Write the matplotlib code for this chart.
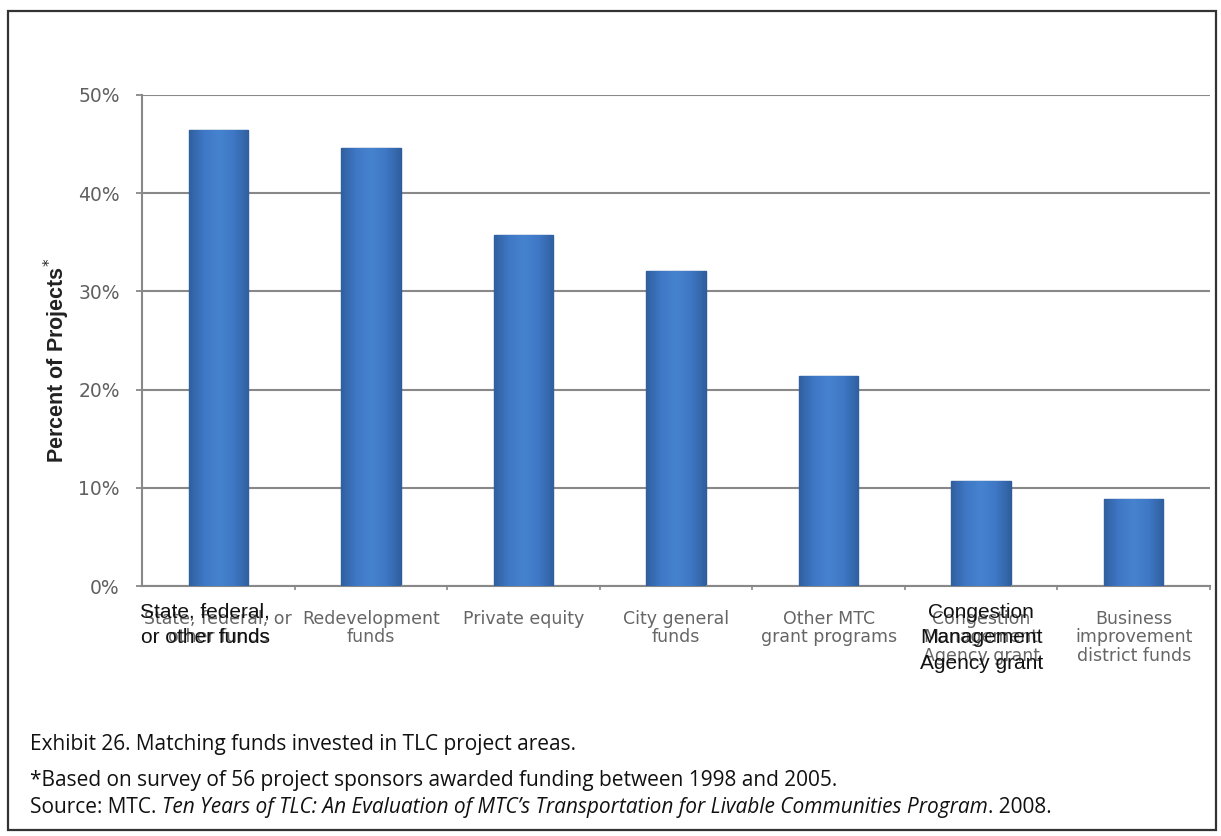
import numpy as np
import matplotlib
matplotlib.use("Agg")
from matplotlib import pyplot as plt
from matplotlib.colors import LinearSegmentedColormap
from matplotlib.patches import Rectangle

# share of projects using each source of matching funds (n = 56 sponsors)
categories = [
    "State, federal, or\nother funds",
    "Redevelopment\nfunds",
    "Private equity",
    "City general\nfunds",
    "Other MTC\ngrant programs",
    "Congestion\nManagement\nAgency grant",
    "Business\nimprovement\ndistrict funds",
]
percent_of_projects = [46.4, 44.6, 35.7, 32.1, 21.4, 10.7, 8.9]
y_ticks = [0, 10, 20, 30, 40, 50]

# a couple of labels sit on top again in a crisper black font
overlay_labels = {0: "State, federal,\nor other funds", 5: "Congestion\nManagement\nAgency grant"}
overlay_x = {0: -0.085, 5: 5.0}

caption_lines = [
    "Exhibit 26. Matching funds invested in TLC project areas.",
    "*Based on survey of 56 project sponsors awarded funding between 1998 and 2005.",
]
source_parts = [
    ("Source: MTC. ", "normal"),
    ("Ten Years of TLC: An Evaluation of MTC\u2019s Transportation for Livable Communities Program", "italic"),
    (". 2008.", "normal"),
]

W, H = 1221, 836
GRID = "#888888"


def px_x(x):
    return x / W


def px_y(y):
    return 1 - y / H


def shade_bars(ax, bars):
    cmap = LinearSegmentedColormap.from_list("bar", ["#30609f", "#3f78c6", "#4683cf", "#3f78c6", "#30609f"])
    grad = np.linspace(0, 1, 64).reshape(1, -1)
    for b in bars:
        x0, y0 = b.get_x(), b.get_y()
        im = ax.imshow(grad, cmap=cmap, aspect="auto", zorder=3,
                       extent=(x0, x0 + b.get_width(), y0, y0 + b.get_height()))
        im.set_clip_path(b)


def main():
    fig = plt.figure(figsize=(W / 100, H / 100), dpi=100)
    ax = fig.add_axes([px_x(142), px_y(586), px_x(1210 - 142), (586 - 95) / H])

    x = np.arange(len(categories))
    bars = ax.bar(x, percent_of_projects, width=0.39, color="#3d74c2",
                  edgecolor="#2d5a9a", linewidth=1.0, zorder=2)
    shade_bars(ax, bars)

    ax.set_xlim(-0.5, 6.45)
    ax.set_ylim(0, 50)
    ax.set_yticks(y_ticks)
    ax.set_yticklabels([f"{v}%" for v in y_ticks], fontsize=13.5, color="#606060",
                       family="DejaVu Sans")
    ax.tick_params(axis="y", length=4, width=1.3, color=GRID, pad=12)
    ax.set_xticks(x + 0.5, minor=True)
    ax.set_xticks([])
    ax.tick_params(axis="x", which="minor", length=3, width=1.2, color=GRID, direction="out")

    ax.set_axisbelow(True)
    ax.yaxis.grid(True, color=GRID, linewidth=1.5)
    for s in ["top", "right"]:
        ax.spines[s].set_visible(False)
    for s in ["left", "bottom"]:
        ax.spines[s].set_color(GRID)
        ax.spines[s].set_linewidth(1.5)

    # category labels (gray), then the black ones over them
    for i, label in enumerate(categories):
        ax.annotate(label, xy=(i, 0), xycoords=("data", "axes fraction"),
                    xytext=(0, -17), textcoords="offset points", ha="center", va="top",
                    fontsize=12.5, color="#666666", family="DejaVu Sans", linespacing=1.05)
    for i, label in overlay_labels.items():
        ax.annotate(label, xy=(overlay_x[i], 0), xycoords=("data", "axes fraction"),
                    xytext=(0, -12), textcoords="offset points", ha="center", va="top",
                    fontsize=15, color="#111111", family="Liberation Sans", linespacing=1.44)

    fig.text(px_x(57), px_y(360), "Percent of Projects$^{*}$", rotation=90, ha="center", va="center",
             fontsize=15.5, fontweight="bold", color="#222222", family="Liberation Sans")

    # caption block under the chart
    cap_font = dict(fontsize=15, color="#111111", family="Open Sans")
    fig.text(px_x(30), px_y(750), caption_lines[0], va="baseline", **cap_font)
    fig.text(px_x(30), px_y(786), caption_lines[1], va="baseline", **cap_font)
    renderer = fig.canvas.get_renderer()
    xpos = px_x(30)
    for text, style in source_parts:
        t = fig.text(xpos, px_y(813), text, va="baseline", style=style, **cap_font)
        bb = t.get_window_extent(renderer=renderer)
        xpos = bb.x1 / fig.bbox.width

    fig.add_artist(Rectangle((px_x(8), px_y(830)), px_x(1216 - 8), (830 - 11) / H,
                             transform=fig.transFigure, fill=False, edgecolor="#333333",
                             linewidth=1.6))

    fig.savefig("out.png", dpi=100)


if __name__ == "__main__":
    main()
